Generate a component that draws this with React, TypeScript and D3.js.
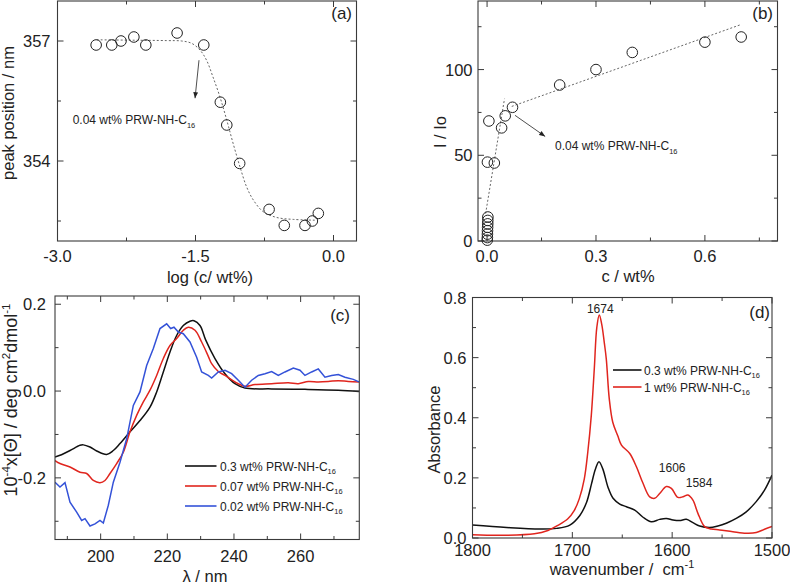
import React from "react";
import * as d3 from "d3";

// ---------- Panel (a) ----------
const aLogC = [-2.58, -2.41, -2.31, -2.17, -2.04, -1.7, -1.41, -1.23, -1.16, -1.02, -0.7, -0.535, -0.31, -0.23, -0.165];
const aPeak = [356.9, 356.9, 357.0, 357.1, 356.9, 357.2, 356.9, 355.47, 354.9, 353.94, 352.79, 352.39, 352.39, 352.5, 352.69];
const aFitLogC = [-2.574, -2.18, -1.813, -1.65, -1.54, -1.45, -1.38, -1.31, -1.234, -1.16, -1.09, -1.016, -0.944, -0.87, -0.763, -0.62, -0.437, -0.183];
const aFitPeak = [357.03, 357.02, 357.01, 357.0, 356.94, 356.77, 356.52, 356.1, 355.6, 355.02, 354.43, 353.85, 353.35, 353.02, 352.73, 352.59, 352.54, 352.52];
const aXMajor = [-3.0, -1.5, 0.0];
const aXMinor = [-2.25, -0.75];
const aYMajor = [354, 357];
const aYMinor = [352.5, 355.5];

// ---------- Panel (b) ----------
const bC = [0.0005, 0.0008, 0.001, 0.0012, 0.0015, 0.0018, 0.002, 0.0022, 0.001, 0.005, 0.02, 0.04, 0.05, 0.07, 0.2, 0.3, 0.4, 0.6, 0.7];
const bI = [0.5, 2, 4, 6, 8, 10, 12, 14, 46, 70, 45.5, 66, 73, 78, 91, 100, 110, 116, 119];
const bFit1C = [-0.004, 0.048];
const bFit1I = [16, 83];
const bFit2C = [0.068, 0.696];
const bFit2I = [78.5, 126];
const bXMajor = [0.0, 0.3, 0.6];
const bXMinor = [0.15, 0.45, 0.75];
const bYMajor = [0, 50, 100];
const bYMinor = [25, 75, 125];

// ---------- Panel (c) ----------
const cBlackL = [186.3, 187.8, 190.8, 193.8, 194.8, 196.8, 198.8, 201.8, 203.8, 205.8, 208.8, 211.8, 214.8, 216.8, 218.8, 220.8, 222.8, 224.8, 226.8, 228.0, 229.8, 231.5, 234.3, 237.3, 240.3, 243.3, 251.3, 261.3, 271.3, 277.5];
const cBlackV = [-0.152, -0.148, -0.137, -0.125, -0.124, -0.129, -0.138, -0.146, -0.137, -0.121, -0.094, -0.068, -0.037, -0.002, 0.044, 0.09, 0.128, 0.151, 0.161, 0.162, 0.151, 0.118, 0.075, 0.04, 0.017, 0.007, 0.005, 0.004, 0.002, -0.001];
const cRedL = [186.3, 187.8, 190.8, 193.8, 195.8, 197.8, 199.8, 201.3, 202.8, 204.8, 206.8, 208.8, 210.8, 212.8, 214.8, 216.8, 218.8, 220.8, 222.8, 224.8, 226.3, 228.3, 230.3, 232.3, 233.3, 235.3, 237.3, 240.3, 243.3, 246.3, 251.3, 256.3, 259.3, 262.3, 265.3, 268.3, 271.3, 274.3, 277.5];
const cRedV = [-0.16, -0.167, -0.175, -0.187, -0.19, -0.206, -0.211, -0.206, -0.19, -0.167, -0.141, -0.094, -0.056, -0.025, 0.002, 0.036, 0.075, 0.105, 0.121, 0.14, 0.147, 0.14, 0.113, 0.08, 0.063, 0.045, 0.036, 0.021, 0.011, 0.015, 0.017, 0.019, 0.017, 0.022, 0.021, 0.022, 0.024, 0.022, 0.021];
const cBlueL = [186.3, 187.8, 189.3, 190.8, 192.8, 194.3, 195.3, 196.8, 198.3, 199.8, 200.8, 202.3, 203.8, 205.8, 207.8, 209.8, 211.8, 213.8, 215.8, 217.8, 219.8, 221.0, 222.0, 223.3, 224.8, 226.8, 228.8, 230.3, 232.3, 233.3, 235.3, 237.3, 239.3, 241.3, 243.3, 245.3, 247.3, 249.3, 251.3, 253.3, 255.3, 257.8, 259.8, 261.3, 263.3, 265.3, 267.3, 269.3, 271.3, 273.3, 275.8, 277.5];
const cBlueV = [-0.21, -0.221, -0.211, -0.256, -0.279, -0.298, -0.294, -0.311, -0.306, -0.298, -0.304, -0.263, -0.21, -0.164, -0.11, -0.033, -0.002, 0.059, 0.098, 0.144, 0.155, 0.144, 0.147, 0.136, 0.132, 0.113, 0.078, 0.044, 0.036, 0.03, 0.044, 0.048, 0.04, 0.025, 0.009, 0.025, 0.036, 0.04, 0.045, 0.036, 0.044, 0.053, 0.048, 0.036, 0.044, 0.051, 0.032, 0.036, 0.038, 0.032, 0.027, 0.021];
const cLegend = ["0.3 wt% PRW-NH-C", "0.07 wt% PRW-NH-C", "0.02 wt% PRW-NH-C"];
const cXMajor = [200, 220, 240, 260];
const cXMinor = [190, 210, 230, 250, 270];
const cYMajor = [-0.2, 0.0, 0.2];
const cYMinor = [-0.3, -0.1, 0.1];

// ---------- Panel (d) ----------
const dBlackW = [1800, 1765.8, 1732.5, 1715.8, 1702.5, 1692.5, 1685.8, 1680.8, 1677, 1673.3, 1669.5, 1664.2, 1659.2, 1652.5, 1645.8, 1637.5, 1629.2, 1620.8, 1612.5, 1605.8, 1599.2, 1592.5, 1585.8, 1579.2, 1572.5, 1562.5, 1554.2, 1545.8, 1535.8, 1525.8, 1515.8, 1507.5, 1500];
const dBlackA = [0.043, 0.035, 0.03, 0.032, 0.043, 0.075, 0.118, 0.18, 0.228, 0.254, 0.23, 0.168, 0.132, 0.113, 0.104, 0.093, 0.069, 0.054, 0.062, 0.065, 0.06, 0.058, 0.062, 0.051, 0.04, 0.035, 0.04, 0.049, 0.065, 0.087, 0.121, 0.159, 0.209];
const dRedW = [1800, 1771, 1738, 1724.5, 1714.5, 1704.5, 1698, 1693, 1688, 1684.5, 1681, 1678, 1675.5, 1673, 1670.5, 1668, 1666, 1663, 1659.5, 1654.5, 1650.8, 1642.5, 1635.8, 1629.2, 1622.5, 1617.5, 1612.5, 1605.8, 1600.8, 1594.2, 1589.2, 1584.2, 1579.2, 1574.2, 1567.5, 1560.8, 1552.5, 1539.2, 1525.8, 1515.8, 1507.5, 1500];
const dRedA = [0.011, 0.009, 0.014, 0.025, 0.042, 0.064, 0.092, 0.131, 0.197, 0.286, 0.408, 0.563, 0.7, 0.742, 0.71, 0.65, 0.596, 0.463, 0.385, 0.34, 0.309, 0.281, 0.237, 0.182, 0.137, 0.132, 0.148, 0.171, 0.165, 0.135, 0.137, 0.143, 0.126, 0.082, 0.038, 0.03, 0.027, 0.021, 0.016, 0.018, 0.029, 0.038];
const dLegend = ["0.3 wt% PRW-NH-C", "1 wt% PRW-NH-C"];
const dPeakLabels = ["1674", "1606", "1584"];
const dPeakW = [1672, 1600, 1573];
const dPeakA = [0.75, 0.219, 0.169];
const dXMajor = [1800, 1700, 1600, 1500];
const dXMinor = [1750, 1650, 1550];
const dYMajor = [0.0, 0.2, 0.4, 0.6, 0.8];
const dYMinor = [0.1, 0.3, 0.5, 0.7];

const FONT = "'Liberation Sans', Arial, Helvetica, sans-serif";
const INK = "#222";
const FRAME = "#3a3a3a";
const RED = "#e0251e";
const BLUE = "#3452d8";
const TICK_FS = 16.5;

type Scale = d3.ScaleLinear<number, number>;

function Box(p: {
  x: Scale; y: Scale; xMajor: number[]; xMinor: number[]; yMajor: number[]; yMinor: number[];
  fx: (v: number) => string; fy: (v: number) => string; xLabDy: number; yLabDx: number;
}) {
  const { x, y } = p;
  const [l, r] = x.range();
  const [b, t] = y.range();
  const M = 6, m = 3.5;
  return (
    <g>
      <rect x={l} y={t} width={r - l} height={b - t} fill="none" stroke={FRAME} strokeWidth={1.1} />
      {p.xMajor.map((v) => (
        <g key={"xM" + v} stroke={FRAME} strokeWidth={1}>
          <line x1={x(v)} x2={x(v)} y1={b} y2={b - M} />
          <line x1={x(v)} x2={x(v)} y1={t} y2={t + M} />
        </g>
      ))}
      {p.xMinor.map((v) => (
        <g key={"xm" + v} stroke={FRAME} strokeWidth={1}>
          <line x1={x(v)} x2={x(v)} y1={b} y2={b - m} />
          <line x1={x(v)} x2={x(v)} y1={t} y2={t + m} />
        </g>
      ))}
      {p.yMajor.map((v) => (
        <g key={"yM" + v} stroke={FRAME} strokeWidth={1}>
          <line x1={l} x2={l + M} y1={y(v)} y2={y(v)} />
          <line x1={r} x2={r - M} y1={y(v)} y2={y(v)} />
        </g>
      ))}
      {p.yMinor.map((v) => (
        <g key={"ym" + v} stroke={FRAME} strokeWidth={1}>
          <line x1={l} x2={l + m} y1={y(v)} y2={y(v)} />
          <line x1={r} x2={r - m} y1={y(v)} y2={y(v)} />
        </g>
      ))}
      {p.xMajor.map((v) => (
        <text key={"xl" + v} x={x(v)} y={b + p.xLabDy} textAnchor="middle" fontSize={TICK_FS} fill={INK}>
          {p.fx(v)}
        </text>
      ))}
      {p.yMajor.map((v) => (
        <text key={"yl" + v} x={l - p.yLabDx} y={y(v) + 6} textAnchor="end" fontSize={TICK_FS} fill={INK}>
          {p.fy(v)}
        </text>
      ))}
    </g>
  );
}

function SubText(p: { x: number; y: number; main: string; sub: string; size?: number }) {
  const s = p.size ?? 12;
  return (
    <text x={p.x} y={p.y} fontSize={s} fill={INK}>
      {p.main}
      <tspan fontSize={s * 0.62} dy={3.5}>{p.sub}</tspan>
    </text>
  );
}

const f1 = (v: number) => v.toFixed(1);
const f0 = (v: number) => String(Math.round(v));

export default function App() {
  // scales
  const xa = d3.scaleLinear().domain([-3, 0.25]).range([57.5, 356.5]);
  const ya = d3.scaleLinear().domain([352, 358]).range([241, 1]);
  const xb = d3.scaleLinear().domain([-0.025, 0.8]).range([478, 777.5]);
  const yb = d3.scaleLinear().domain([0, 140]).range([241, 1]);
  const xc = d3.scaleLinear().domain([186.3, 277.6]).range([55, 359.3]);
  const yc = d3.scaleLinear().domain([-0.342, 0.219]).range([539.5, 296]);
  const xd = d3.scaleLinear().domain([1800, 1500]).range([472.5, 772]);
  const yd = d3.scaleLinear().domain([0, 0.8]).range([538, 297.5]);

  const aFit = d3.line<number>().x((_, i) => xa(aFitLogC[i])).y((v) => ya(v)).curve(d3.curveCatmullRom)(aFitPeak);
  const bFit1 = d3.line<number>().x((_, i) => xb(bFit1C[i])).y((v) => yb(v))(bFit1I);
  const bFit2 = d3.line<number>().x((_, i) => xb(bFit2C[i])).y((v) => yb(v))(bFit2I);

  const lineC = (L: number[], V: number[], smooth: boolean) =>
    d3.line<number>().x((_, i) => xc(L[i])).y((v) => yc(v)).curve(smooth ? d3.curveCatmullRom : d3.curveLinear)(V);
  const lineD = (W: number[], A: number[]) =>
    d3.line<number>().x((_, i) => xd(W[i])).y((v) => yd(v)).curve(d3.curveCatmullRom)(A);

  const cColors = ["#111", RED, BLUE];
  const dColors = ["#111", RED];

  return (
    <svg width={790} height={585} style={{ position: "absolute", left: 0, top: 0, background: "#fff" }} fontFamily={FONT}>
      <defs>
        <marker id="arr" viewBox="0 0 10 10" refX="10" refY="5" markerWidth="7" markerHeight="6" markerUnits="userSpaceOnUse" orient="auto">
          <path d="M0,1 L10,5 L0,9 z" fill="#222" />
        </marker>
        <clipPath id="clipc"><rect x={55} y={296} width={304.3} height={243.5} /></clipPath>
        <clipPath id="clipd"><rect x={472.5} y={297.5} width={299.5} height={240.5} /></clipPath>
      </defs>
      <rect x={0} y={0} width={790} height={585} fill="#fff" />

      {/* ---------------- (a) ---------------- */}
      <Box x={xa} y={ya} xMajor={aXMajor} xMinor={aXMinor} yMajor={aYMajor} yMinor={aYMinor} fx={f1} fy={f0} xLabDy={20.5} yLabDx={7} />
      <path d={aFit ?? ""} fill="none" stroke="#666" strokeWidth={1} strokeDasharray="2,2" />
      {aLogC.map((v, i) => (
        <circle key={"a" + i} cx={xa(v)} cy={ya(aPeak[i])} r={5.3} fill="none" stroke="#222" strokeWidth={1} />
      ))}
      <line x1={xa(-1.462)} y1={ya(356.52)} x2={xa(-1.505)} y2={ya(355.57)} stroke="#222" strokeWidth={0.8} markerEnd="url(#arr)" />
      <SubText x={xa(-2.835)} y={ya(354.92)} main="0.04 wt% PRW-NH-C" sub="16" />
      <text x={352} y={19} textAnchor="end" fontSize={17} fill={INK}>(a)</text>
      <text x={210} y={282.5} textAnchor="middle" fontSize={16.5} fill={INK}>log (c/ wt%)</text>
      <text transform="translate(14,113) rotate(-90)" textAnchor="middle" fontSize={16.5} fill={INK}>peak position / nm</text>

      {/* ---------------- (b) ---------------- */}
      <Box x={xb} y={yb} xMajor={bXMajor} xMinor={bXMinor} yMajor={bYMajor} yMinor={bYMinor} fx={f1} fy={f0} xLabDy={20.5} yLabDx={5.5} />
      <path d={bFit1 ?? ""} fill="none" stroke="#666" strokeWidth={1} strokeDasharray="2,2" />
      <path d={bFit2 ?? ""} fill="none" stroke="#666" strokeWidth={1} strokeDasharray="2,2" />
      {bC.map((v, i) => (
        <circle key={"b" + i} cx={xb(v)} cy={yb(bI[i])} r={5.3} fill="none" stroke="#222" strokeWidth={1} />
      ))}
      <line x1={xb(0.077)} y1={yb(73.3)} x2={xb(0.16)} y2={yb(61)} stroke="#222" strokeWidth={0.8} markerEnd="url(#arr)" />
      <SubText x={xb(0.187)} y={yb(52.9)} main="0.04 wt% PRW-NH-C" sub="16" />
      <text x={773} y={19} textAnchor="end" fontSize={17} fill={INK}>(b)</text>
      <text x={628} y={282} textAnchor="middle" fontSize={16.5} fill={INK}>c / wt%</text>
      <text transform="translate(446,132) rotate(-90)" textAnchor="middle" fontSize={16.5} fill={INK}>I / Io</text>

      {/* ---------------- (c) ---------------- */}
      <g clipPath="url(#clipc)">
        <path d={lineC(cBlackL, cBlackV, true) ?? ""} fill="none" stroke="#111" strokeWidth={1.5} />
        <path d={lineC(cRedL, cRedV, true) ?? ""} fill="none" stroke={RED} strokeWidth={1.5} />
        <path d={lineC(cBlueL, cBlueV, false) ?? ""} fill="none" stroke={BLUE} strokeWidth={1.5} />
      </g>
      <Box x={xc} y={yc} xMajor={cXMajor} xMinor={cXMinor} yMajor={cYMajor} yMinor={cYMinor} fx={f0} fy={f1} xLabDy={22} yLabDx={9} />
      {cLegend.map((s, i) => (
        <g key={"cl" + i}>
          <line x1={185} x2={216.5} y1={466 + i * 20} y2={466 + i * 20} stroke={cColors[i]} strokeWidth={1.6} />
          <SubText x={220} y={470.5 + i * 20} main={s} sub="16" />
        </g>
      ))}
      <text x={350} y={321} textAnchor="end" fontSize={17} fill={INK}>(c)</text>
      <text x={205} y={582} textAnchor="middle" fontSize={16.5} fill={INK}>λ / nm</text>
      <text transform="translate(17,400) rotate(-90)" textAnchor="middle" fontSize={18} fill={INK}>
        10<tspan fontSize={11.5} dy={-7}>-4</tspan>
        <tspan dy={7}>x[Θ] / deg cm</tspan>
        <tspan fontSize={11.5} dy={-7}>2</tspan>
        <tspan dy={7}>dmol</tspan>
        <tspan fontSize={11.5} dy={-7}>-1</tspan>
      </text>

      {/* ---------------- (d) ---------------- */}
      <g clipPath="url(#clipd)">
        <path d={lineD(dBlackW, dBlackA) ?? ""} fill="none" stroke="#111" strokeWidth={1.5} />
        <path d={lineD(dRedW, dRedA) ?? ""} fill="none" stroke={RED} strokeWidth={1.5} />
      </g>
      <Box x={xd} y={yd} xMajor={dXMajor} xMinor={dXMinor} yMajor={dYMajor} yMinor={dYMinor} fx={f0} fy={f1} xLabDy={17.5} yLabDx={6} />
      {dLegend.map((s, i) => (
        <g key={"dl" + i}>
          <line x1={613} x2={641.5} y1={370 + i * 17} y2={370 + i * 17} stroke={dColors[i]} strokeWidth={1.6} />
          <SubText x={644} y={374.5 + i * 17} main={s} sub="16" />
        </g>
      ))}
      {dPeakLabels.map((s, i) => (
        <text key={"pk" + i} x={xd(dPeakW[i])} y={yd(dPeakA[i])} textAnchor="middle" fontSize={12} fill={INK}>{s}</text>
      ))}
      <text x={770} y={318} textAnchor="end" fontSize={17} fill={INK}>(d)</text>
      <text x={622} y={575} textAnchor="middle" fontSize={16.5} fill={INK} style={{ whiteSpace: "pre" }}>
        {"wavenumber /  cm"}
        <tspan fontSize={11} dy={-7}>-1</tspan>
      </text>
      <text transform="translate(439.5,429.5) rotate(-90)" textAnchor="middle" fontSize={16.5} fill={INK}>Absorbance</text>
    </svg>
  );
}
